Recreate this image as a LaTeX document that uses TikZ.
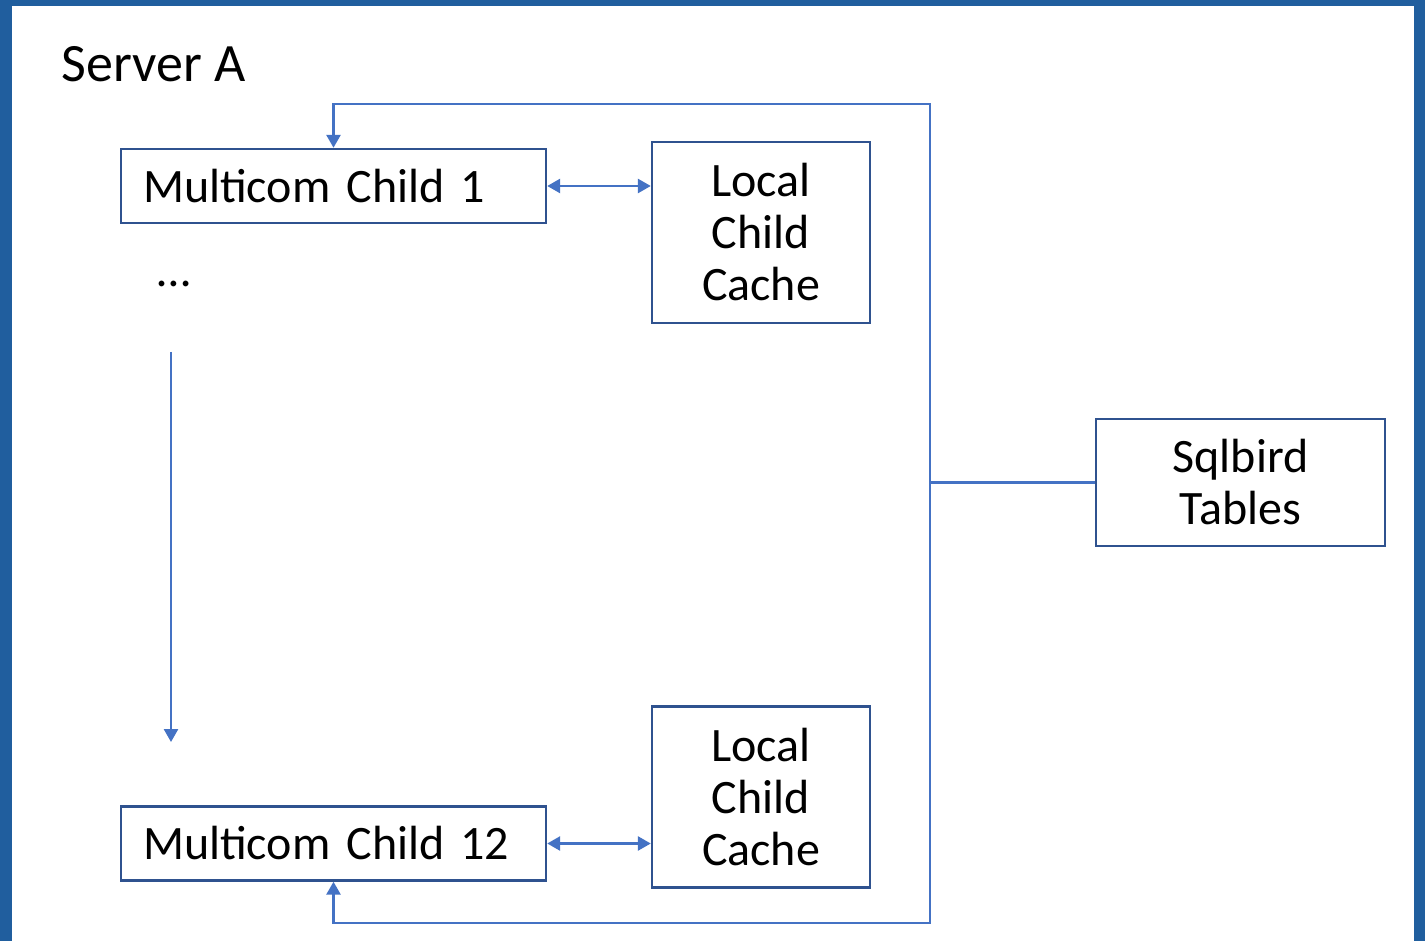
\documentclass[tikz,border=0pt]{standalone}
\usepackage{fontspec}
\setmainfont{Carlito}
\usetikzlibrary{arrows.meta, positioning}
\definecolor{framebg}{RGB}{32,94,158}
\definecolor{boxline}{RGB}{47,82,143}
\definecolor{linkblue}{RGB}{68,114,196}

\begin{document}
\begin{tikzpicture}[
    x=1pt, y=-1pt,
    box/.style={rectangle, draw=boxline, line width=2.4pt, inner sep=0pt, font=\fontsize{48}{52}\selectfont},
    child/.style={box, text width=381pt, minimum height=74pt, align=left, inner xsep=22pt},
    cache/.style={box, minimum width=218pt, minimum height=181pt, align=center},
    link/.style={draw=linkblue, line width=2.6pt},
    arrow/.style={link, -{Triangle[length=13pt, width=14pt]}},
    both/.style={link, {Triangle[length=13pt, width=14pt]}-{Triangle[length=13pt, width=14pt]}}
  ]
    \useasboundingbox (0,0) rectangle (1425,941);
    \fill[framebg] (0,0) rectangle (1425,941);
    \fill[white] (12,6) rectangle (1414,941);

    \node[anchor=base west, font=\fontsize{54}{60}\selectfont] (server) at (58,82) {Server A};
    \node[child] (mc1) at (333.5,186) {Multicom Child 1};
    \node[cache] (lcc1) at (761,232.5) {Local\\Child\\Cache};
    \node[anchor=base west, font=\fontsize{48}{52}\selectfont] (dots) at (154,287) {…};
    \node[child] (mc12) at (333.5,843.5) {Multicom Child 12};
    \node[cache] (lcc2) at (761,797) {Local\\Child\\Cache};
    \node[box, minimum width=289pt, minimum height=127pt, align=center] (sql) at (1240.5,482.5) {Sqlbird\\Tables};

    \coordinate (busN) at (930,104);
    \coordinate (busS) at (930,923);
    \coordinate (flowtop) at (171,352);
    \coordinate (flowbot) at (171,742);

    \draw[both] (mc1.north) |- (busN) -- (busS) -| (mc12.south);
    \draw[link] (sql.west) -- (sql.west -| busN);
    \draw[both] (mc1.east) -- (mc1.east -| lcc1.west);
    \draw[both] (mc12.east) -- (mc12.east -| lcc2.west);
    \draw[arrow] (flowtop) -- (flowbot);
  \end{tikzpicture}
\end{document}
